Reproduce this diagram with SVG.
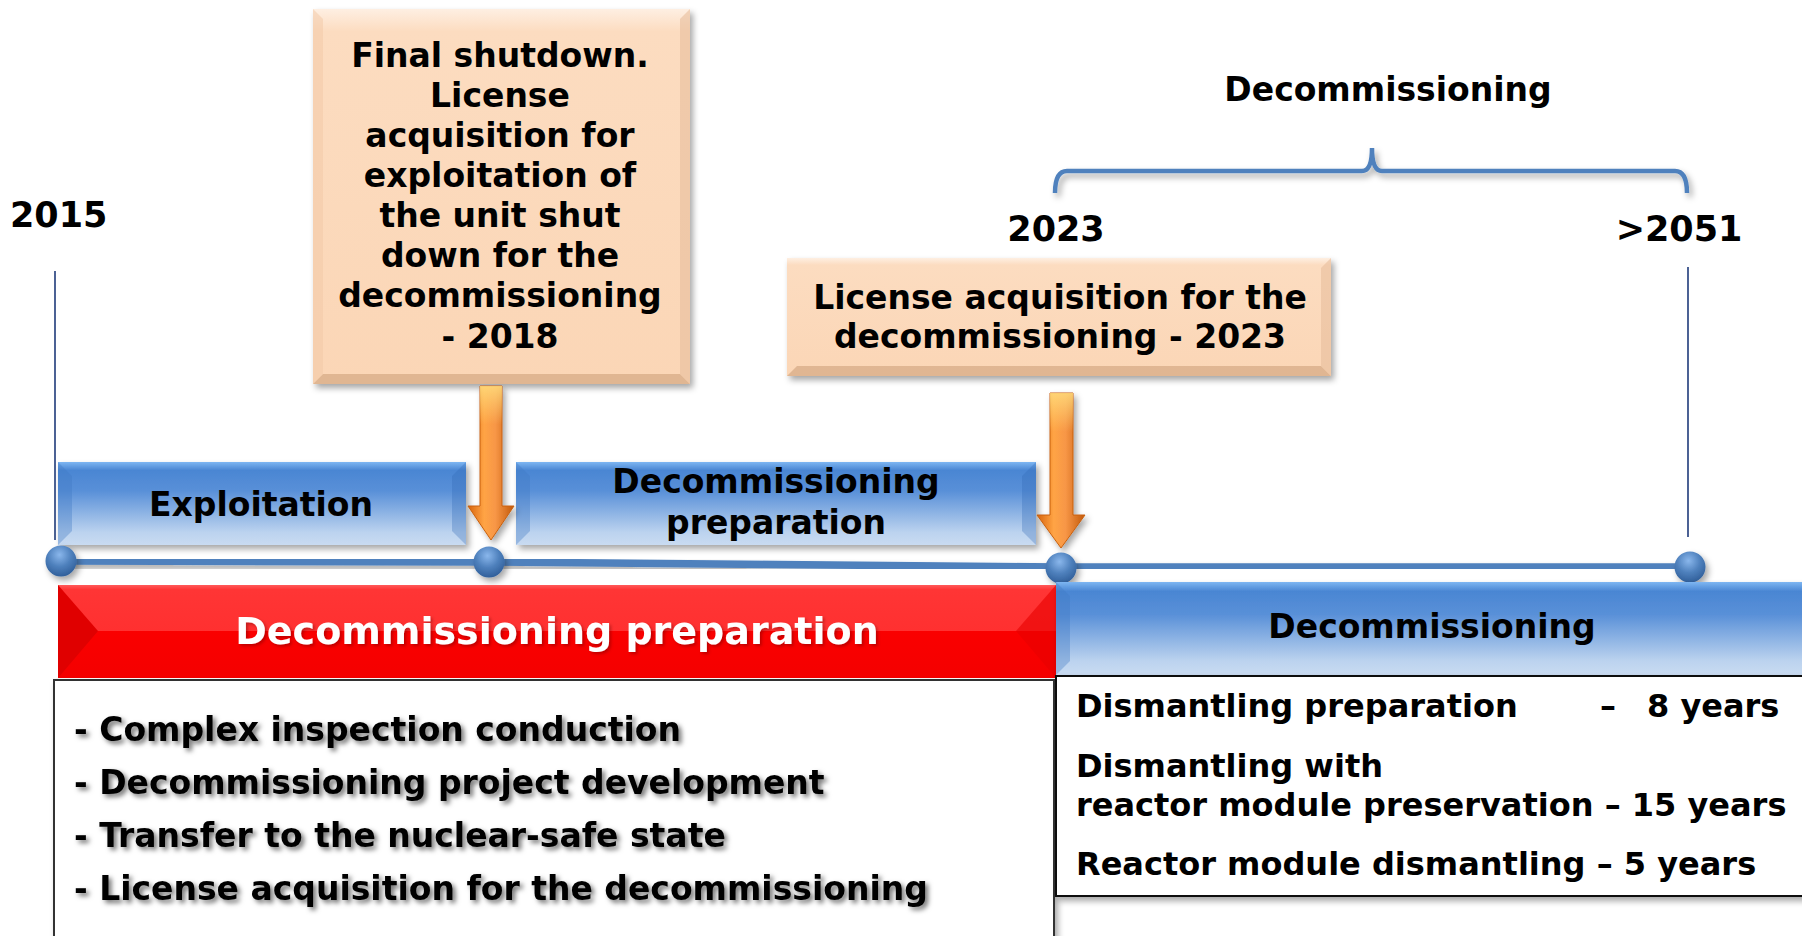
<svg xmlns="http://www.w3.org/2000/svg" width="1802" height="936" viewBox="0 0 1802 936">
<style>
text{font-family:"DejaVu Sans","Liberation Sans",sans-serif;font-weight:bold;fill:#000}
.c{text-anchor:middle}
.t33{font-size:33px}
.t35{font-size:35px}
.t32{font-size:32px}
.white{fill:#fff}
.vline{stroke:#1F3A7A;stroke-width:1.6;fill:none}
</style>
<defs>
<filter id="sh" x="-10%" y="-20%" width="125%" height="150%">
<feDropShadow dx="3" dy="4" stdDeviation="3" flood-color="#000" flood-opacity="0.35"/>
</filter>
<filter id="tsh" x="-5%" y="-30%" width="115%" height="170%">
<feDropShadow dx="3" dy="3" stdDeviation="2.5" flood-color="#000" flood-opacity="0.55"/>
</filter>
<filter id="wsh" x="-5%" y="-30%" width="115%" height="170%">
<feDropShadow dx="2" dy="2" stdDeviation="1.5" flood-color="#600" flood-opacity="0.4"/>
</filter>
<linearGradient id="peach" x1="0" y1="0" x2="0" y2="1">
<stop offset="0" stop-color="#FEEFE2"/>
<stop offset="0.06" stop-color="#FCDCC0"/>
<stop offset="1" stop-color="#FBD6B6"/>
</linearGradient>
<linearGradient id="blue" x1="0" y1="0" x2="0" y2="1">
<stop offset="0" stop-color="#7DB6F2"/>
<stop offset="0.1" stop-color="#4A86D3"/>
<stop offset="0.35" stop-color="#5990D8"/>
<stop offset="0.85" stop-color="#BCD3EF"/>
<stop offset="1" stop-color="#C9DBF1"/>
</linearGradient>
<linearGradient id="red" x1="0" y1="0" x2="0" y2="1">
<stop offset="0" stop-color="#FF5A5A"/>
<stop offset="0.05" stop-color="#FF3535"/>
<stop offset="0.5" stop-color="#FF3030"/>
<stop offset="0.5" stop-color="#FA0000"/>
<stop offset="1" stop-color="#F40000"/>
</linearGradient>
<linearGradient id="orange" x1="0" y1="0" x2="1" y2="0">
<stop offset="0" stop-color="#D8630C"/>
<stop offset="0.35" stop-color="#FFA445"/>
<stop offset="0.6" stop-color="#F79646"/>
<stop offset="1" stop-color="#C2580A"/>
</linearGradient>
<linearGradient id="glow" x1="0" y1="0" x2="0" y2="1">
<stop offset="0" stop-color="#FFE080" stop-opacity="0.8"/>
<stop offset="0.25" stop-color="#FFE080" stop-opacity="0"/>
<stop offset="1" stop-color="#FFE080" stop-opacity="0"/>
</linearGradient>
<radialGradient id="dot" cx="0.45" cy="0.3" r="0.75">
<stop offset="0" stop-color="#8AB7EC"/>
<stop offset="0.5" stop-color="#4F81BD"/>
<stop offset="1" stop-color="#2C5A95"/>
</radialGradient>
</defs>

<rect width="1802" height="936" fill="#fff"/>

<!-- year labels and guide lines -->
<g id="year-2015">
<text class="t35" x="10" y="227">2015</text>
<line class="vline" x1="55" y1="271" x2="55" y2="540"/>
</g>
<g id="year-2023">
<text class="t35 c" x="1056" y="241">2023</text>
</g>
<g id="year-2051">
<text class="t35 c" x="1679" y="241">&gt;2051</text>
<line class="vline" x1="1688" y1="267" x2="1688" y2="537"/>
</g>

<!-- decommissioning brace -->
<g id="brace-decommissioning">
<path d="M1055,193 Q1055,171 1067,171 L1362,171 Q1372,171 1372,148 Q1372,171 1382,171 L1675,171 Q1687,171 1687,193" fill="none" stroke="#4F81BD" stroke-width="4.5" filter="url(#sh)"/>
<text class="t33 c" x="1388" y="101">Decommissioning</text>
</g>

<!-- milestone box 1 -->
<g id="box-final-shutdown">
<rect x="313" y="9" width="377" height="375" fill="url(#peach)" filter="url(#sh)"/>
<polygon points="313,384 323,374 680,374 690,384" fill="#D9AE8A" opacity="0.8"/>
<polygon points="680,19 690,9 690,384 680,374" fill="#E8BE9C" opacity="0.6"/>
<polygon points="313,9 323,19 323,374 313,384" fill="#F2C8A6" opacity="0.5"/>
<text class="t33 c" x="500" y="67">Final shutdown.</text>
<text class="t33 c" x="500" y="107">License</text>
<text class="t33 c" x="500" y="147">acquisition for</text>
<text class="t33 c" x="500" y="187">exploitation of</text>
<text class="t33 c" x="500" y="227">the unit shut</text>
<text class="t33 c" x="500" y="267">down for the</text>
<text class="t33 c" x="500" y="307">decommissioning</text>
<text class="t33 c" x="500" y="348">- 2018</text>
</g>

<!-- milestone box 2 -->
<g id="box-license-2023">
<rect x="787" y="258" width="544" height="118" fill="url(#peach)" filter="url(#sh)"/>
<polygon points="787,376 797,366 1321,366 1331,376" fill="#D9AE8A" opacity="0.8"/>
<polygon points="1321,268 1331,258 1331,376 1321,366" fill="#E8BE9C" opacity="0.6"/>
<text class="t33 c" x="1060" y="309">License acquisition for the</text>
<text class="t33 c" x="1060" y="348">decommissioning - 2023</text>
</g>

<!-- phase boxes -->
<g id="phase-exploitation">
<rect x="58" y="462" width="408" height="83" fill="url(#blue)" filter="url(#sh)"/>
<polygon points="58,462 72,476 72,531 58,545" fill="#3F78C4" opacity="0.35"/>
<polygon points="466,462 452,476 452,531 466,545" fill="#2F68B4" opacity="0.3"/>
<text class="t33 c" x="261" y="516">Exploitation</text>
</g>
<g id="phase-decom-prep">
<rect x="516" y="462" width="520" height="83" fill="url(#blue)" filter="url(#sh)"/>
<polygon points="516,462 530,476 530,531 516,545" fill="#3F78C4" opacity="0.35"/>
<polygon points="1036,462 1022,476 1022,531 1036,545" fill="#2F68B4" opacity="0.3"/>
<text class="t33 c" x="776" y="493">Decommissioning</text>
<text class="t33 c" x="776" y="534">preparation</text>
</g>

<!-- connectors: timeline and arrows -->
<g id="connectors">
<polyline points="61,561 489,562 1061,567 1690,567" fill="none" stroke="#4F81BD" stroke-width="7.5" filter="url(#sh)"/>
<g filter="url(#sh)">
<path d="M480,386 L502,386 L502,506 L514,506 L491,540 L468,506 L480,506 Z" fill="url(#orange)" stroke="#C8600E" stroke-width="1"/>
<path d="M480,386 L502,386 L502,506 L514,506 L491,540 L468,506 L480,506 Z" fill="url(#glow)"/>
<path d="M1050,393 L1073,393 L1073,515 L1085,515 L1061,548 L1037,515 L1050,515 Z" fill="url(#orange)" stroke="#C8600E" stroke-width="1"/>
<path d="M1050,393 L1073,393 L1073,515 L1085,515 L1061,548 L1037,515 L1050,515 Z" fill="url(#glow)"/>
</g>
<g filter="url(#sh)">
<circle cx="61" cy="561" r="15.5" fill="url(#dot)"/>
<circle cx="489" cy="562" r="15.5" fill="url(#dot)"/>
<circle cx="1061" cy="568" r="15.5" fill="url(#dot)"/>
<circle cx="1690" cy="567" r="15.5" fill="url(#dot)"/>
</g>
</g>

<!-- red bar -->
<g id="bar-decom-preparation">
<rect x="58" y="585" width="998" height="93" fill="url(#red)"/>
<polygon points="58,585 98,631 58,678" fill="#E00000"/>
<polygon points="1056,585 1016,631 1056,678" fill="#E80000" opacity="0.6"/>
<text class="c white" style="font-size:38px" x="557" y="644" filter="url(#wsh)">Decommissioning preparation</text>
</g>

<!-- blue bar -->
<g id="bar-decommissioning">
<rect x="1056" y="582" width="760" height="93" fill="url(#blue)" filter="url(#sh)"/>
<polygon points="1056,582 1070,596 1070,661 1056,675" fill="#3F78C4" opacity="0.35"/>
<text class="t33 c" x="1432" y="638">Decommissioning</text>
</g>

<!-- lower left list -->
<g id="list-preparation">
<rect x="54" y="680" width="1000" height="270" fill="#fff" stroke="#333" stroke-width="2" filter="url(#sh)"/>
<g filter="url(#tsh)">
<text class="t33" x="74" y="741">- Complex inspection conduction</text>
<text class="t33" x="74" y="794">- Decommissioning project development</text>
<text class="t33" x="74" y="847">- Transfer to the nuclear-safe state</text>
<text class="t33" x="74" y="900">- License acquisition for the decommissioning</text>
</g>
</g>

<!-- lower right list -->
<g id="list-decommissioning">
<rect x="1056" y="676" width="760" height="220" fill="#fff" stroke="#111" stroke-width="2" filter="url(#sh)"/>
<text class="t32" x="1076" y="717">Dismantling preparation<tspan x="1600">– </tspan><tspan x="1647">8 years</tspan></text>
<text class="t32" x="1076" y="777">Dismantling with</text>
<text class="t32" x="1076" y="816">reactor module preservation – 15 years</text>
<text class="t32" x="1076" y="875">Reactor module dismantling – 5 years</text>
</g>
</svg>
